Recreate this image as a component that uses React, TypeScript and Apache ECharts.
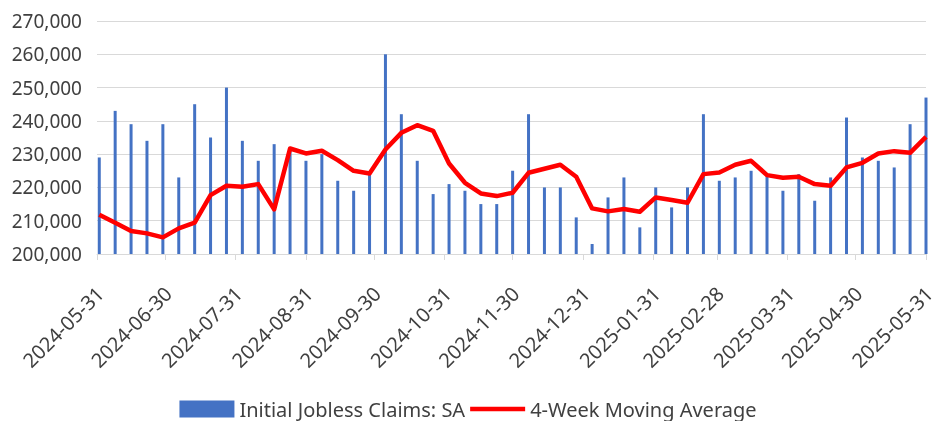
import React, { useEffect, useRef } from "react";
import * as echarts from "echarts";

const weekEnding = [
  "2024-06-01", "2024-06-08", "2024-06-15", "2024-06-22", "2024-06-29",
  "2024-07-06", "2024-07-13", "2024-07-20", "2024-07-27",
  "2024-08-03", "2024-08-10", "2024-08-17", "2024-08-24", "2024-08-31",
  "2024-09-07", "2024-09-14", "2024-09-21", "2024-09-28",
  "2024-10-05", "2024-10-12", "2024-10-19", "2024-10-26",
  "2024-11-02", "2024-11-09", "2024-11-16", "2024-11-23", "2024-11-30",
  "2024-12-07", "2024-12-14", "2024-12-21", "2024-12-28",
  "2025-01-04", "2025-01-11", "2025-01-18", "2025-01-25",
  "2025-02-01", "2025-02-08", "2025-02-15", "2025-02-22",
  "2025-03-01", "2025-03-08", "2025-03-15", "2025-03-22", "2025-03-29",
  "2025-04-05", "2025-04-12", "2025-04-19", "2025-04-26",
  "2025-05-03", "2025-05-10", "2025-05-17", "2025-05-24", "2025-05-31",
];

const initialClaims = [
  229000, 243000, 239000, 234000, 239000, 223000, 245000, 235000, 250000, 234000,
  228000, 233000, 232000, 228000, 230000, 222000, 219000, 224000, 260000, 242000,
  228000, 218000, 221000, 219000, 215000, 215000, 225000, 242000, 220000, 220000,
  211000, 203000, 217000, 223000, 208000, 220000, 214000, 220000, 242000, 222000,
  223000, 225000, 224000, 219000, 224000, 216000, 223000, 241000, 229000, 228000,
  226000, 239000, 247000,
];

const movingAverage = [
  211800, 209400, 206900, 206200, 205000, 207700, 209400, 217700, 220500, 220200,
  221000, 213400, 231700, 230200, 231000, 228200, 225000, 224200, 231400, 236400,
  238700, 237000, 227200, 221400, 218200, 217400, 218400, 224400, 225600, 226800,
  223200, 213700, 212800, 213500, 212700, 217000, 216200, 215400, 224000, 224500,
  226800, 228000, 223700, 222900, 223200, 221000, 220500, 226000, 227400, 230200,
  230900, 230400, 235200,
];

const tickLabels = [
  "2024-05-31", "2024-06-30", "2024-07-31", "2024-08-31", "2024-09-30",
  "2024-10-31", "2024-11-30", "2024-12-31", "2025-01-31", "2025-02-28",
  "2025-03-31", "2025-04-30", "2025-05-31",
];

const yTicks = { min: 200000, max: 270000, interval: 10000 };

const seriesNames = ["Initial Jobless Claims: SA", "4-Week Moving Average"];

const toTs = (s: string) => {
  const [y, m, d] = s.split("-").map(Number);
  return Date.UTC(y, m - 1, d);
};
const fmtDate = (v: number) => {
  const dt = new Date(v);
  const p = (n: number) => String(n).padStart(2, "0");
  return `${dt.getUTCFullYear()}-${p(dt.getUTCMonth() + 1)}-${p(dt.getUTCDate())}`;
};

export default function App() {
  const ref = useRef<HTMLDivElement>(null);
  useEffect(() => {
    if (!ref.current) return;
    const chart = echarts.init(ref.current, undefined, { renderer: "svg" });
    const tickVals = tickLabels.map(toTs);
    const font = "'Noto Sans', 'DejaVu Sans', sans-serif";
    const gridBox = { top: 21, bottom: 167 };
    chart.setOption({
      animation: false,
      grid: [
        { left: 97, right: 10, ...gridBox, outerBoundsMode: "none" },
        // label grid: same width, offset slightly to the right like the reference's rotated labels
        { left: 100, right: 7, ...gridBox, outerBoundsMode: "none" },
      ],
      legend: {
        data: [
          { name: seriesNames[0], icon: "rect", itemStyle: { color: "#4472C4" } },
          {
            name: seriesNames[1],
            icon: "path://M0,0H110V9H0Z",
            itemStyle: { color: "#FF0000" },
          },
        ],
        top: 399,
        left: "center",
        padding: 0,
        itemWidth: 55,
        itemHeight: 17,
        itemGap: 5,
        textStyle: { fontSize: 20, lineHeight: 20, color: "#404040", fontFamily: font },
      },
      xAxis: [
        {
          type: "value",
          gridIndex: 0,
          min: tickVals[0],
          max: tickVals[tickVals.length - 1],
          axisLine: { show: true, lineStyle: { color: "#D9D9D9", width: 1 } },
          axisTick: {
            show: true,
            length: 6,
            customValues: tickVals,
            lineStyle: { color: "#D9D9D9", width: 1 },
          },
          splitLine: { show: false },
          axisLabel: { show: false },
        },
        {
          type: "value",
          gridIndex: 1,
          min: tickVals[0],
          max: tickVals[tickVals.length - 1],
          axisLine: { show: false },
          axisTick: { show: false },
          splitLine: { show: false },
          axisLabel: {
            customValues: tickVals,
            formatter: (v: number) => fmtDate(v),
            rotate: 45,
            fontSize: 20,
            lineHeight: 20,
            color: "#404040",
            fontFamily: font,
            margin: 36,
            align: "right",
            verticalAlign: "middle",
            hideOverlap: false,
          },
        },
      ],
      yAxis: [
        {
          type: "value",
          gridIndex: 0,
          min: yTicks.min,
          max: yTicks.max,
          interval: yTicks.interval,
          axisLine: { show: false },
          axisTick: { show: false },
          splitLine: { lineStyle: { color: "#D9D9D9", width: 1 } },
          axisLabel: {
            fontSize: 19,
            color: "#404040",
            fontFamily: font,
            margin: 15,
            formatter: (v: number) => v.toLocaleString("en-US"),
          },
        },
        {
          type: "value",
          gridIndex: 1,
          min: yTicks.min,
          max: yTicks.max,
          interval: yTicks.interval,
          show: false,
        },
      ],
      series: [
        {
          name: seriesNames[0],
          type: "bar",
          xAxisIndex: 0,
          yAxisIndex: 0,
          barWidth: 3,
          itemStyle: { color: "#4472C4" },
          data: weekEnding.map((d, i) => [toTs(d), initialClaims[i]]),
          z: 2,
        },
        {
          name: seriesNames[1],
          type: "line",
          xAxisIndex: 0,
          yAxisIndex: 0,
          symbol: "none",
          lineStyle: { color: "#FF0000", width: 4.5, join: "round" },
          itemStyle: { color: "#FF0000" },
          data: weekEnding.map((d, i) => [toTs(d), movingAverage[i]]),
          z: 3,
        },
      ],
    });
    return () => chart.dispose();
  }, []);
  return (
    <div
      ref={ref}
      style={{ position: "fixed", left: 0, top: 0, width: 936, height: 421 }}
    />
  );
}
